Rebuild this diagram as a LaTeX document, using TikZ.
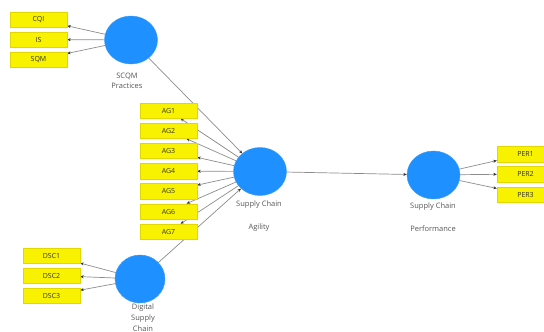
\documentclass[tikz,border=0pt]{standalone}
\usepackage{fontspec}
\setmainfont{Open Sans}
\usetikzlibrary{arrows.meta,shapes.geometric,backgrounds}
\definecolor{boxy}{HTML}{F8F200}
\definecolor{boxedge}{HTML}{E2D800}
\definecolor{latblue}{HTML}{1E90FF}
\definecolor{latedge}{HTML}{3A9BF0}
\definecolor{txt}{HTML}{333333}
\definecolor{lbltxt}{HTML}{555555}
\definecolor{linegray}{HTML}{8C8C8C}
\begin{document}
\begin{tikzpicture}[x=1pt,y=-1pt,
  ind/.style={rectangle,fill=boxy,draw=boxedge,line width=0.4pt,minimum width=57pt,minimum height=15.5pt,inner sep=0pt,font=\fontsize{7}{8}\selectfont,text=txt},
  lat/.style={ellipse,fill=latblue,draw=latedge,line width=0.4pt,minimum width=53pt,minimum height=48pt,inner sep=0pt},
  lbl/.style={font=\fontsize{7.5}{8.5}\selectfont,text=lbltxt,inner sep=0pt},
  con/.style={draw=linegray,line width=0.7pt,-{Stealth[length=3.5pt,width=3pt,color=black!80]}}]
\useasboundingbox (0,0) rectangle (544,332);
% latent variables
\node[lat] (scqm) at (131,40) {};
\node[lat] (agi) at (260,171.5) {};
\node[lat] (perf) at (433.5,175) {};
\node[lat,minimum width=50pt] (dsc) at (140,279) {};
% indicators
\node[ind] (cqi) at (38.5,19.5) {CQI};
\node[ind] (is) at (38.5,39.5) {IS};
\node[ind] (sqm) at (38.5,59.5) {SQM};
\node[ind] (ag1) at (168.5,110.5) {AG1};
\node[ind] (ag2) at (168.5,130.7) {AG2};
\node[ind] (ag3) at (168.5,150.9) {AG3};
\node[ind] (ag4) at (168.5,171.1) {AG4};
\node[ind] (ag5) at (168.5,191.3) {AG5};
\node[ind] (ag6) at (168.5,211.5) {AG6};
\node[ind] (ag7) at (168.5,231.7) {AG7};
\node[ind] (dsc1) at (51.5,255.5) {DSC1};
\node[ind] (dsc2) at (51.5,275.5) {DSC2};
\node[ind] (dsc3) at (51.5,295.5) {DSC3};
\node[ind] (per1) at (525.5,154) {PER1};
\node[ind] (per2) at (525.5,174) {PER2};
\node[ind] (per3) at (525.5,194.5) {PER3};
% labels
\node[lbl] (l1) at (127,76) {SCQM};
\node[lbl] (l2) at (127,85.5) {Practices};
\node[lbl] (l3) at (259,205) {Supply Chain};
\node[lbl] (l4) at (259,228) {Agility};
\node[lbl] (l5) at (433,207) {Supply Chain};
\node[lbl] (l6) at (433,229) {Performance};
\node[lbl] (l7) at (143,308) {Digital};
\node[lbl] (l8) at (143,318.3) {Supply};
\node[lbl] (l9) at (143,328.3) {Chain};
% connectors
\begin{scope}[on background layer]
\draw[con] (scqm) -- (cqi);
\draw[con] (scqm) -- (is);
\draw[con] (scqm) -- (sqm);
\draw[con] (scqm) -- (agi);
\draw[con] (dsc) -- (agi);
\draw[con] (agi) -- (perf);
\foreach \n in {ag1,ag2,ag3,ag4,ag5,ag6,ag7} {\draw[con] (agi) -- (\n);}
\foreach \n in {dsc1,dsc2,dsc3} {\draw[con] (dsc) -- (\n);}
\foreach \n in {per1,per2,per3} {\draw[con] (perf) -- (\n);}
\end{scope}
\end{tikzpicture}
\end{document}
